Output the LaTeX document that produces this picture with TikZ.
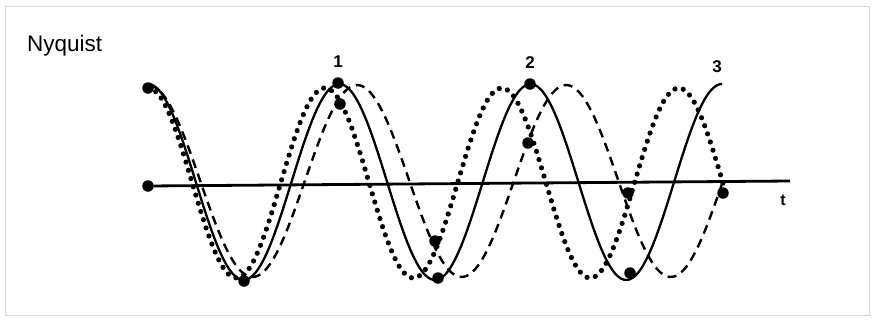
\documentclass[tikz,border=0pt]{standalone}
\usepackage{fontspec}
\setmainfont{Liberation Sans}
\usetikzlibrary{positioning}

\begin{document}
\begin{tikzpicture}[
  x=1pt, y=-1pt,
  frame/.style={draw=black!15,line width=1pt},
  axisline/.style={line width=2.8pt},
  solidwave/.style={line width=2.3pt},
  dotwave/.style={line width=5.2pt,line cap=round,dash pattern=on 0pt off 8.6pt},
  dashwave/.style={line width=2.4pt,dash pattern=on 9pt off 6pt},
  dot/.style={circle,fill,inner sep=0pt,minimum size=11.5pt},
  lbl/.style={font=\bfseries\fontsize{17}{17}\selectfont,inner sep=0pt}
]
\useasboundingbox (0,0) rectangle (872,322);
\draw[frame] (5,6) rectangle (869,315);
\node[anchor=west,inner sep=0pt,font=\fontsize{22.5}{22.5}\selectfont] (title) at (27,46) {Nyquist};

\node[dot] (a0) at (148,186) {};
\coordinate (aend) at (790,181);
\draw[axisline] (a0) -- (aend);
\node[font=\bfseries\fontsize{16}{16}\selectfont,inner sep=0pt] (tlab) at (783,200) {t};

\draw[dotwave] plot[domain=148:723,samples=200,smooth] (\x,{183-95*cos((\x-148)/176.9*360)});
\draw[dashwave] plot[domain=148:724,samples=200,smooth] (\x,{181-96*cos((\x-148)/209.1*360)});
\draw[solidwave] plot[domain=148:722,samples=200,smooth] (\x,{182-98*cos((\x-148)/191.3*360)});

\node[dot] (s0) at (148,88) {};
\node[dot] (s1) at (244,281) {};
\node[dot] (s2) at (338,83) {};
\node[dot] (d2) at (340,104) {};
\node[dot] (s3) at (438,278) {};
\node[dot] (d3) at (435,241) {};
\node[dot] (s4) at (530,84) {};
\node[dot] (d4) at (528,143) {};
\node[dot] (s5) at (630,273) {};
\node[dot] (d5) at (628,193) {};
\node[dot] (d6) at (723,193) {};

\node[lbl] (l1) at (338,62) {1};
\node[lbl] (l2) at (530,63) {2};
\node[lbl] (l3) at (717,67) {3};
\end{tikzpicture}
\end{document}
